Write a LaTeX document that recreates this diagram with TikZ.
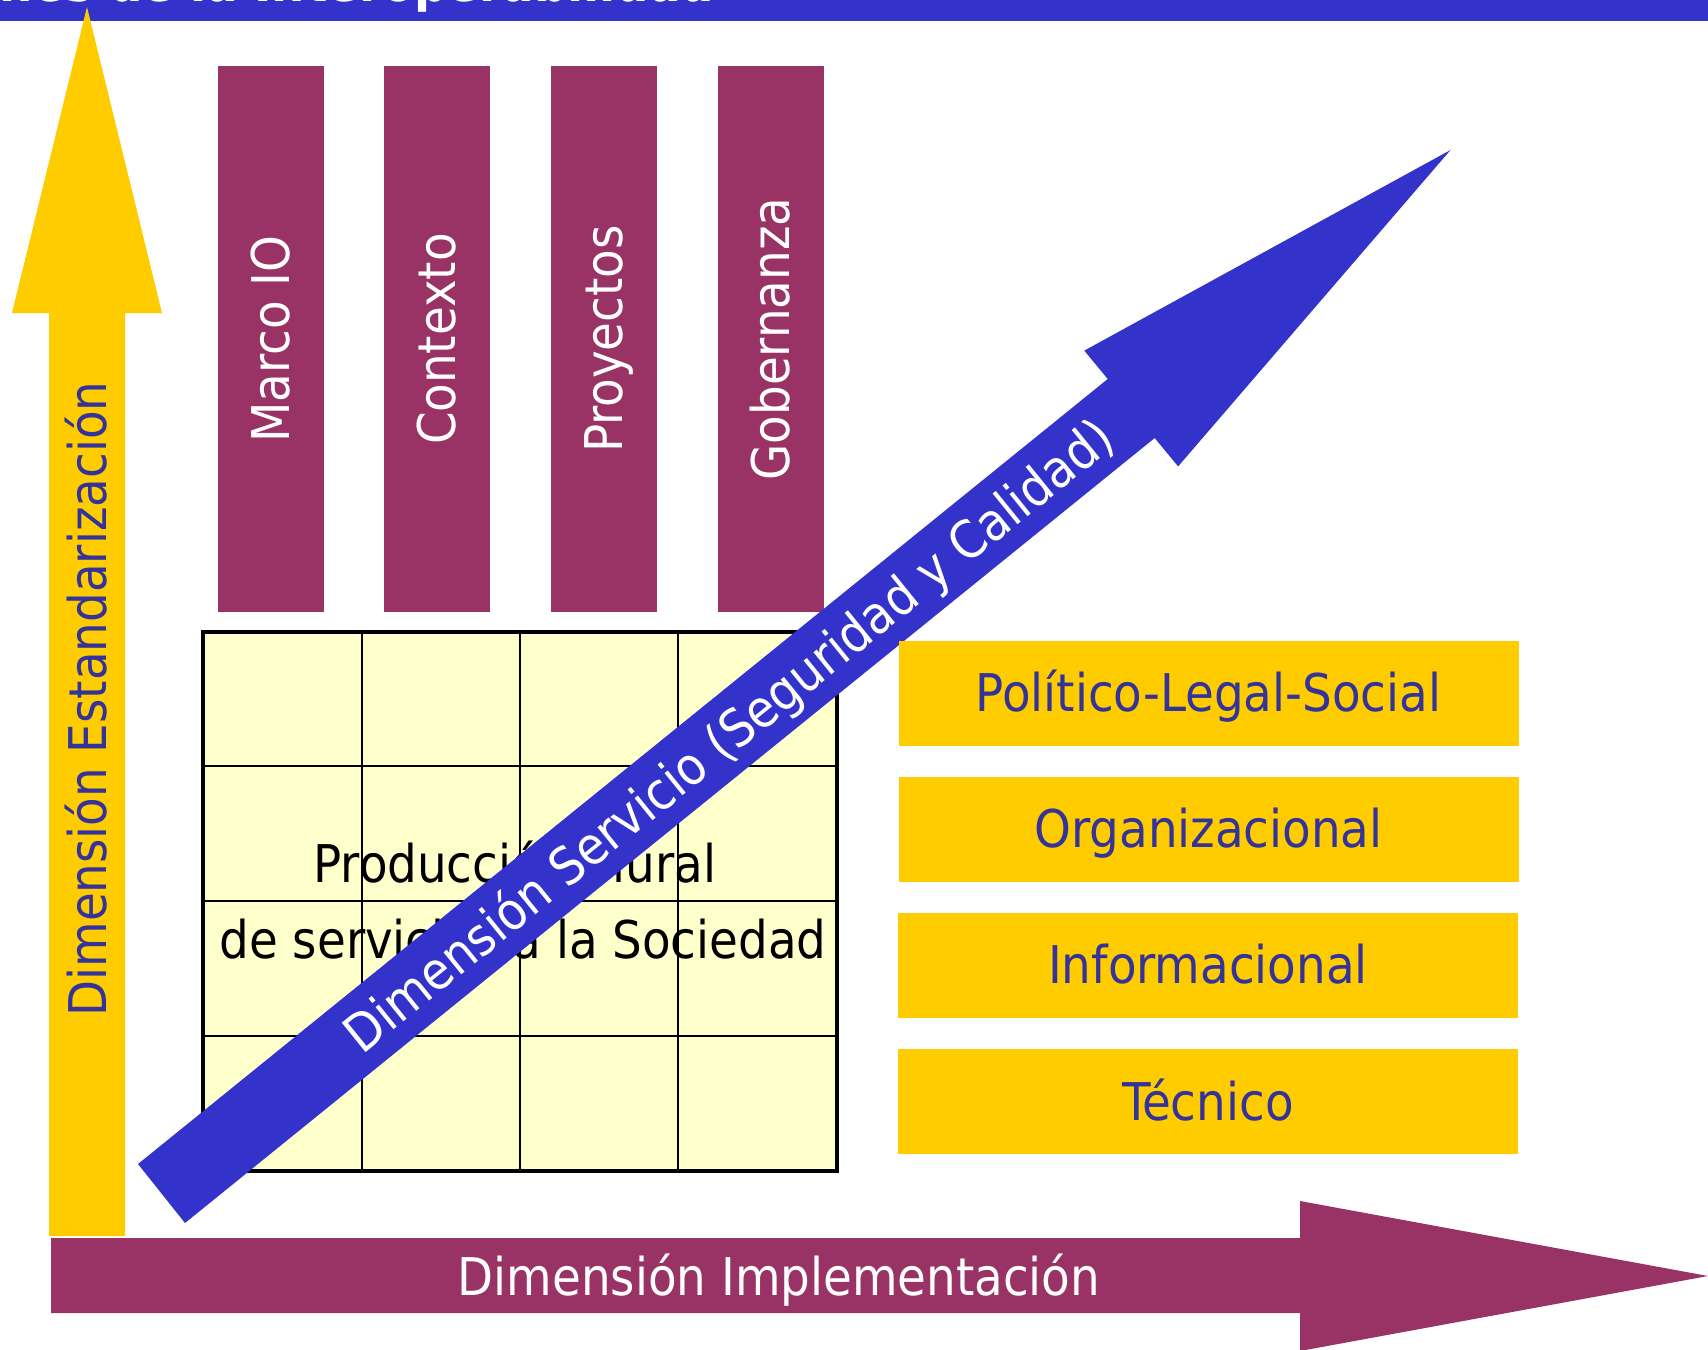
\documentclass[tikz,border=0pt]{standalone}
\usepackage{fontspec}
\newfontfamily\tahoma{DejaVu Sans Condensed}

\definecolor{bandblue}{RGB}{51,51,204}
\definecolor{plum}{RGB}{153,51,102}
\definecolor{gold}{RGB}{255,204,0}
\definecolor{paleyellow}{RGB}{255,255,204}
\definecolor{navytext}{RGB}{51,51,153}

\tikzset{every picture/.style={line width=0.75pt}}
\tikzset{
  lbl/.style={font=\tahoma\fontsize{39}{47}\selectfont, inner sep=0pt, text height=28.4pt, text depth=0pt},
  pillar/.style={lbl, fill=plum, text=white, rotate=90, minimum width=546*0.75pt, minimum height=106*0.75pt},
  layer/.style={lbl, fill=gold, text=navytext, minimum width=620*0.75pt, minimum height=105*0.75pt},
}

\begin{document}
\begin{tikzpicture}[x=0.75pt,y=0.75pt,yscale=-1,xscale=1]
\useasboundingbox (0,0) rectangle (1708,1349);
\clip (0,0) rectangle (1708,1349);

%Shape: Rectangle [title band]
\fill[bandblue] (0,0) rectangle (1708,21);
% Text Node
\node[lbl, font=\tahoma\bfseries\fontsize{39}{47}\selectfont, text=white, anchor=base east] (title) at (715,1.5) {Dimensiones de la Interoperabilidad};

%Shape: Up Arrow
\fill[gold] (49,1236) -- (49,313) -- (12,313) -- (87,7) -- (162,313) -- (125,313) -- (125,1236) -- cycle;
% Text Node
\node[lbl, text=navytext, rotate=90] (estand) at (88,699) {Dimensión Estandarización};

%Shape: Rectangle [pillars]
\node[pillar] (marco) at (271,339) {Marco IO};
\node[pillar] (contexto) at (437,339) {Contexto};
\node[pillar] (proyectos) at (604,339) {Proyectos};
\node[pillar] (gobernanza) at (770.5,339) {Gobernanza};

%Shape: Grid
\fill[paleyellow] (203,632) rectangle (837,1171);
\draw[line width=1.5pt] (362,632) -- (362,1171) (520,632) -- (520,1171) (678,632) -- (678,1171) (203,766) -- (837,766) (203,901) -- (837,901) (203,1036) -- (837,1036);
\draw[line width=3pt] (203,632) rectangle (837,1171);
% Text Node
\node[lbl, anchor=base] (prod1) at (515,882) {Producción Plural};
% Text Node
\node[lbl, anchor=base] (prod2) at (523,958) {de servicios a la Sociedad};

%Shape: Right Arrow
\fill[plum] (51,1238) -- (1300,1238) -- (1300,1201) -- (1708,1276) -- (1300,1351) -- (1300,1313) -- (51,1313) -- cycle;
% Text Node
\node[lbl, text=white] (implem) at (779,1277) {Dimensión Implementación};

%Shape: Diagonal Arrow
\fill[bandblue] (138,1164) -- (1107.7,379) -- (1084.3,350.6) -- (1450.5,150) -- (1178.1,466.4) -- (1154.7,438) -- (185,1223) -- cycle;
% Text Node
\node[lbl, text=white, rotate=39] (servicio) at (728,735) {Dimensión Servicio (Seguridad y Calidad)};

%Shape: Rectangle [layers]
\node[layer] (politico) at (1208.5,693) {Político-Legal-Social};
\node[layer] (organiz) at (1208.5,829) {Organizacional};
\node[layer] (informac) at (1208,965) {Informacional};
\node[layer] (tecnico) at (1208,1101.5) {Técnico};

\end{tikzpicture}
\end{document}
